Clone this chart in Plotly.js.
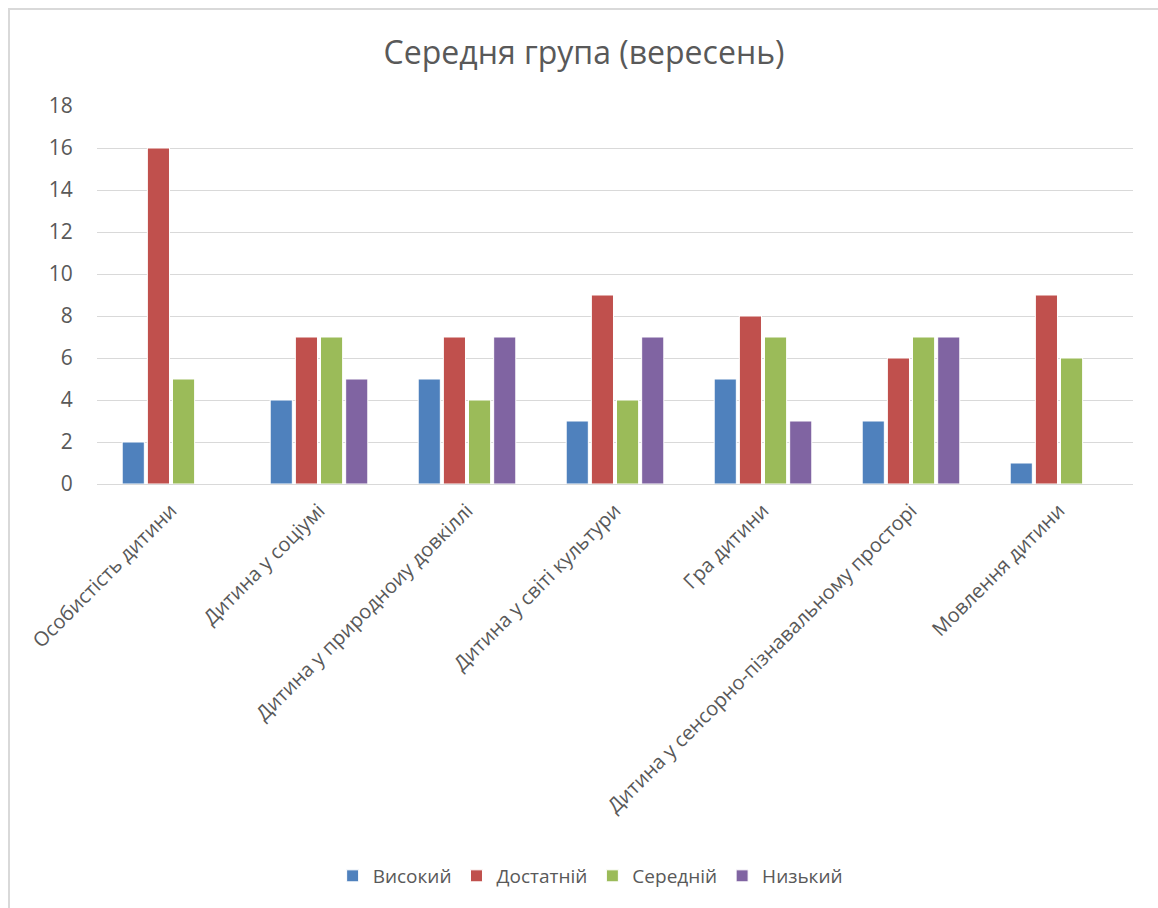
<!DOCTYPE html>
<html>
<head>
<meta charset="utf-8">
<script src="https://cdn.plot.ly/plotly-3.0.1.min.js"></script>
<style>
html,body{margin:0;padding:0;background:#fff;overflow:hidden;}
#chart{position:absolute;left:8px;top:8px;width:1148px;height:898px;border-left:2px solid #d9d9d9;border-top:2px solid #d9d9d9;}
</style>
</head>
<body>
<div id="chart"></div>
<script>
const categories = [
  "Особистість дитини",
  "Дитина у соціумі",
  "Дитина у природноиу довкіллі",
  "Дитина у світі культури",
  "Гра дитини",
  "Дитина у сенсорно-пізнавальному просторі",
  "Мовлення дитини"
];
const seriesNames = ["Високий", "Достатній", "Середній", "Низький"];
const vysokyi   = [2, 4, 5, 3, 5, 3, 1];
const dostatnii = [16, 7, 7, 9, 8, 6, 9];
const serednii  = [5, 7, 4, 4, 7, 7, 6];
const nyzkyi    = [0, 5, 7, 7, 3, 7, 0];
const colors = ["#4F81BD", "#C0504D", "#9BBB59", "#8064A2"];
const yTicks = [0, 2, 4, 6, 8, 10, 12, 14, 16, 18];

const values = [vysokyi, dostatnii, serednii, nyzkyi];
const traces = values.map((v, i) => ({
  type: "bar",
  name: seriesNames[i],
  x: categories,
  y: v,
  marker: {color: colors[i], line: {color: "#ffffff", width: 1}},
  hoverinfo: "x+y+name"
}));

const font = "'Open Sans', 'DejaVu Sans', sans-serif";
const layout = {
  width: 1148,
  height: 898,
  paper_bgcolor: "#ffffff",
  plot_bgcolor: "#ffffff",
  margin: {l: 87, r: 25, t: 96, b: 424},
  barmode: "group",
  bargap: 0.32,
  bargroupgap: 0.12,
  title: {
    text: "Середня група (вересень)",
    font: {family: font, size: 32, color: "#595959"},
    x: 0.5, xanchor: "center",
    yref: "container", y: 0.952, yanchor: "middle"
  },
  xaxis: {
    type: "category",
    tickangle: -45,
    tickfont: {family: font, size: 20, color: "#595959"},
    showgrid: false,
    showline: true,
    linecolor: "#d9d9d9",
    linewidth: 1,
    ticks: "outside",
    ticklen: 6,
    tickcolor: "rgba(0,0,0,0)",
    automargin: false
  },
  yaxis: {
    range: [0, 18],
    tickvals: yTicks,
    ticktext: yTicks.map(String),
    tickfont: {family: font, size: 21, color: "#595959"},
    gridcolor: "#d9d9d9",
    gridwidth: 1,
    zeroline: false,
    showline: false,
    ticks: "outside",
    ticklen: 19,
    tickcolor: "rgba(0,0,0,0)",
    automargin: false
  },
  showlegend: true,
  legend: {
    orientation: "h",
    x: 0.476, xanchor: "center",
    y: -1.037, yanchor: "middle",
    font: {family: font, size: 19, color: "#595959"},
    itemwidth: 30,
    traceorder: "normal"
  }
};

Plotly.newPlot("chart", traces, layout, {displayModeBar: false, responsive: false});
</script>
</body>
</html>
